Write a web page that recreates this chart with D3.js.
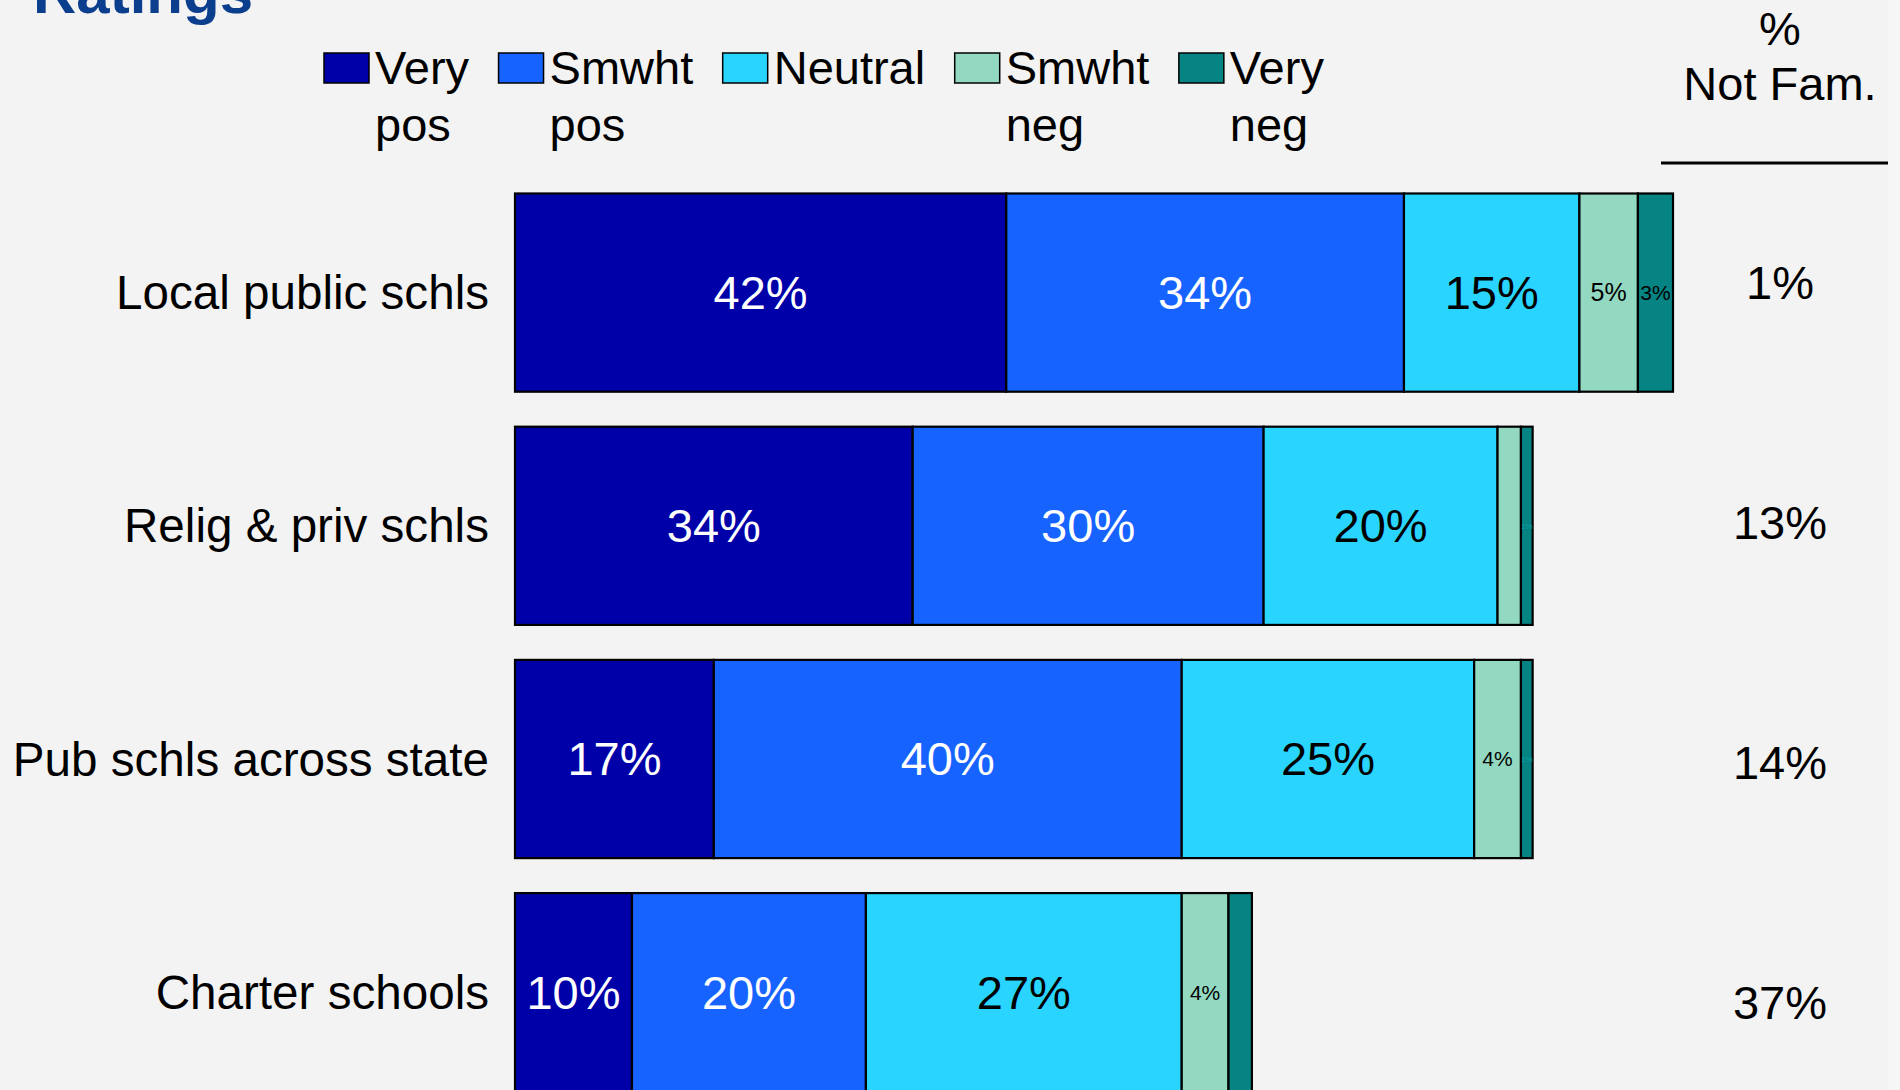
<!DOCTYPE html>
<html><head><meta charset="utf-8">
<script src="https://cdn.jsdelivr.net/npm/d3@7"></script>
<style>html,body{margin:0;padding:0;background:#f3f3f3;overflow:hidden}</style>
</head><body>
<svg id="chart" width="1900" height="1090"></svg>
<script>
// ---- data ----
const categories = ["Local public schls", "Relig & priv schls", "Pub schls across state", "Charter schools"];
const seriesNames = ["Very pos", "Smwht pos", "Neutral", "Smwht neg", "Very neg"];
const legendLines = [["Very", "pos"], ["Smwht", "pos"], ["Neutral"], ["Smwht", "neg"], ["Very", "neg"]];
const veryPos  = [42, 34, 17, 10];
const smwhtPos = [34, 30, 40, 20];
const neutral  = [15, 20, 25, 27];
const smwhtNeg = [5, 2, 4, 4];
const veryNeg  = [3, 1, 1, 2];
const notFamiliar = [1, 13, 14, 37];
const notFamHeader = ["%", "Not Fam."];
const titleText = "Ratings";

// ---- styles ----
const colors = ["#0000a8", "#1763ff", "#29d5ff", "#93d9c1", "#068383"];
const labelColors = ["#ffffff", "#ffffff", "#000000", "#000000", "#000000"];
const FONT = "'Liberation Sans', Arial, Helvetica, sans-serif";

const svg = d3.select("#chart");
svg.append("rect").attr("width", 1900).attr("height", 1090).attr("fill", "#f3f3f3");
svg.append("rect").attr("x", 1888).attr("width", 12).attr("height", 1090).attr("fill", "#f6f6f6");

const rows = categories.map((c, i) => ({
  cat: c, "Very pos": veryPos[i], "Smwht pos": smwhtPos[i], "Neutral": neutral[i],
  "Smwht neg": smwhtNeg[i], "Very neg": veryNeg[i]
}));
const stacked = d3.stack().keys(seriesNames)(rows);

const x = d3.scaleLinear().domain([0, 100]).range([515, 1684.7]);
const y = d3.scaleBand().domain(categories).range([176, 1108.8]).paddingInner(0.15).paddingOuter(0.075);
const yNF = d3.scalePoint().domain(categories).range([282.5, 1002.5]);

// title
svg.append("text").attr("x", 33).attr("y", 13).attr("font-family", FONT)
  .attr("font-weight", "bold").attr("font-size", 60).attr("fill", "#0b3f8e").text(titleText);

// bars
const g = svg.append("g");
stacked.forEach((layer, si) => {
  const lg = g.append("g");
  lg.selectAll("rect").data(layer).join("rect")
    .attr("x", d => x(d[0])).attr("y", d => y(d.data.cat))
    .attr("width", d => x(d[1]) - x(d[0])).attr("height", y.bandwidth())
    .attr("fill", colors[si]).attr("stroke", "#000").attr("stroke-width", 2.2);
  lg.selectAll("text").data(layer).join("text")
    .each(function (d) {
      const w = x(d[1]) - x(d[0]);
      let fs, fill = labelColors[si];
      if (w > 100) fs = 47;
      else if (w > 50) fs = 25;
      else if (w > 30) fs = 21;
      else if (w < 15) { fs = 8; fill = d3.color(colors[si]).brighter(0.6).formatHex(); }
      else fs = 0;
      d3.select(this).attr("font-size", fs).attr("fill", fill)
        .attr("display", fs ? null : "none");
    })
    .attr("x", d => (x(d[0]) + x(d[1])) / 2)
    .attr("y", d => y(d.data.cat) + y.bandwidth() / 2)
    .attr("dy", "0.35em").attr("text-anchor", "middle").attr("font-family", FONT)
    .text(d => (d[1] - d[0]) + "%");
});

// category labels
svg.append("g").selectAll("text").data(categories).join("text")
  .attr("x", 489).attr("y", d => y(d) + y.bandwidth() / 2).attr("dy", "0.35em")
  .attr("text-anchor", "end").attr("font-family", FONT).attr("font-size", 47.6).attr("fill", "#000")
  .text(d => d);

// legend
const leg = svg.append("g");
let lx = 324;
seriesNames.forEach((s, i) => {
  const item = leg.append("g");
  item.append("rect").attr("x", lx).attr("y", 53).attr("width", 45).attr("height", 30)
    .attr("fill", colors[i]).attr("stroke", "#000").attr("stroke-width", 1.5);
  let maxW = 0;
  legendLines[i].forEach((line, li) => {
    const t = item.append("text").attr("x", lx + 51).attr("y", 84 + li * 57)
      .attr("font-family", FONT).attr("font-size", 47).attr("fill", "#000").text(line);
    maxW = Math.max(maxW, t.node().getComputedTextLength());
  });
  lx = lx + 51 + maxW + 29.5;
});

// % Not Fam. column
notFamHeader.forEach((line, i) => {
  svg.append("text").attr("x", 1780).attr("y", 45 + i * 55).attr("text-anchor", "middle")
    .attr("font-family", FONT).attr("font-size", 47).attr("fill", "#000").text(line);
});
svg.append("line").attr("x1", 1661).attr("x2", 1888).attr("y1", 163).attr("y2", 163)
  .attr("stroke", "#000").attr("stroke-width", 3);
svg.append("g").selectAll("text").data(notFamiliar).join("text")
  .attr("x", 1780).attr("y", (d, i) => yNF(categories[i])).attr("dy", "0.35em")
  .attr("text-anchor", "middle").attr("font-family", FONT).attr("font-size", 47).attr("fill", "#000")
  .text(d => d + "%");
</script>
</body></html>
